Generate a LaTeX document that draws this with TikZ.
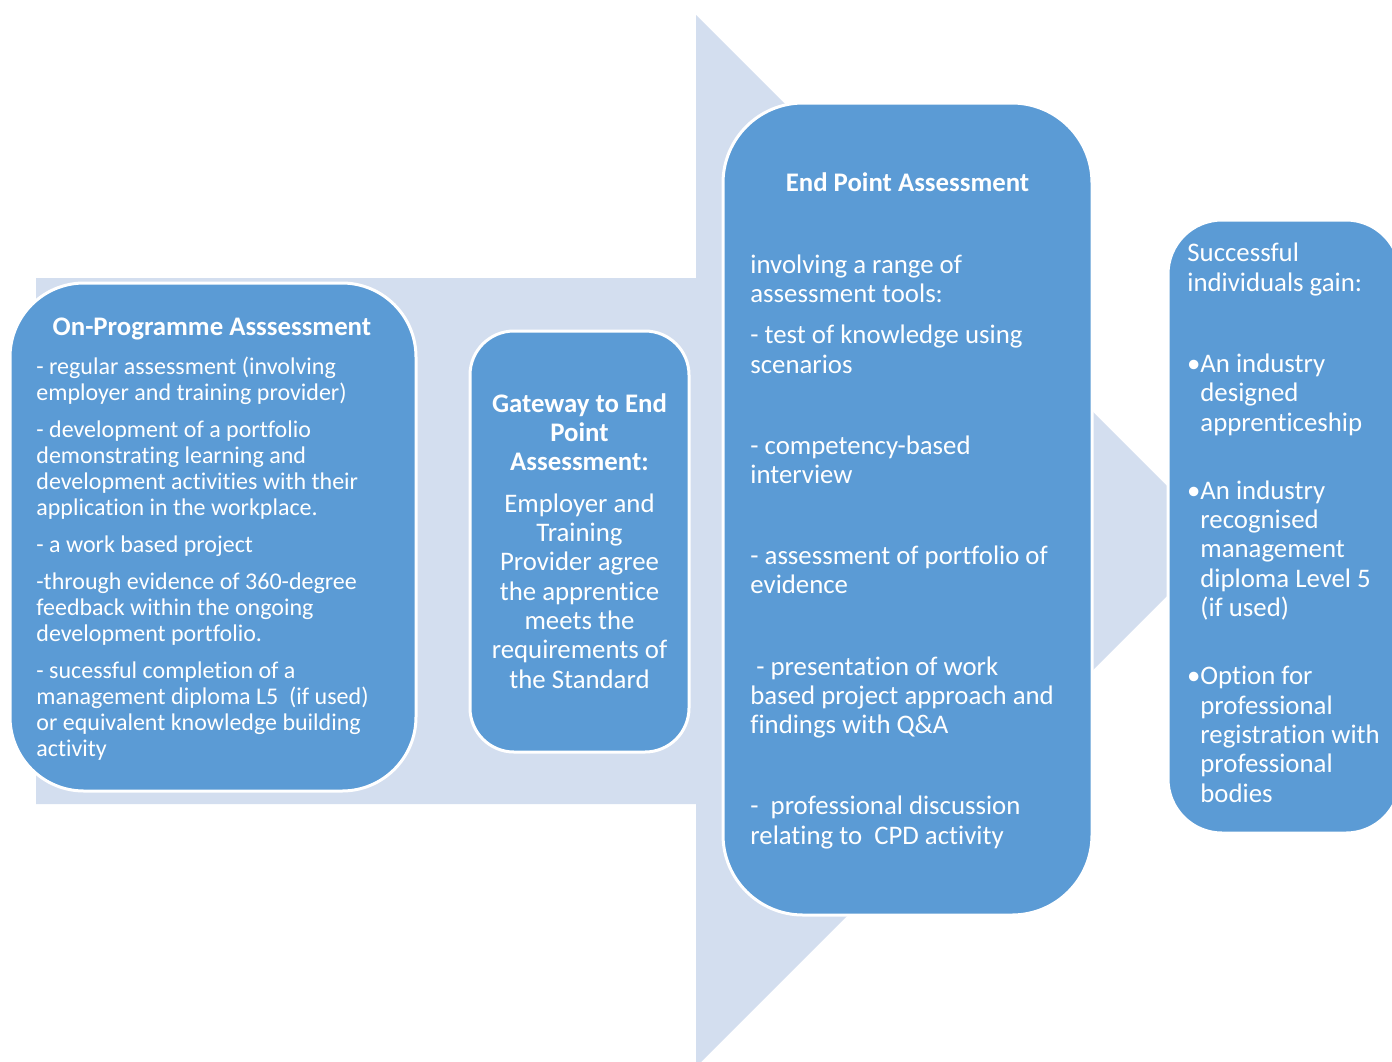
\documentclass[tikz,border=0pt]{standalone}
\usepackage{fontspec}
\setmainfont[Ligatures=NoCommon]{Carlito}
\setlength{\lineskiplimit}{-5pt}
\definecolor{arrowblue}{HTML}{D3DEEF}
\definecolor{boxblue}{HTML}{5B9BD5}
\begin{document}
\begin{tikzpicture}[x=0.5pt,y=-0.5pt,
	stage/.style={draw=white,line width=1.5pt,fill=boxblue,inner sep=0pt},
	stagetext/.style={text=white,inner sep=0pt,font=\fontsize{13.4}{14.65}\selectfont}]
	\useasboundingbox (0,0) rectangle (1392,1061);
	% big arrow behind the stages
	\fill[arrowblue] (36,278) -- (696,278) -- (696,15) -- (1222,541) -- (696,1067) -- (696,804) -- (36,804) -- cycle;
	% stages
	\node[stage,minimum width=203pt,minimum height=254pt,rounded corners=37pt] (onprog) at (213,537) {};
	\node[stage,minimum width=109.5pt,minimum height=210.5pt,rounded corners=22pt] (gateway) at (579.5,541.5) {};
	\node[stage,minimum width=184.5pt,minimum height=406pt,rounded corners=40pt] (epa) at (907.5,509) {};
	\node[stage,minimum width=116pt,minimum height=306.5pt,rounded corners=27pt] (gain) at (1284,526.5) {};
	% on-programme text
	\node[stagetext,font=\bfseries\fontsize{13.4}{14.65}\selectfont,anchor=base] (onprogtitle) at (212,335) {On-Programme Asssessment};
	\node[stagetext,font=\fontsize{12}{13}\selectfont,anchor=base west,align=left] (onprogbody) at (36,756)
		{- regular assessment (involving\\employer and training provider)\\[5.5pt]
		 - development of a portfolio\\demonstrating learning and\\development activities with their\\application in the workplace.\\[5.5pt]
		 - a work based project\\[5.5pt]
		 -through evidence of 360-degree\\feedback within the ongoing\\development portfolio.\\[5.5pt]
		 - sucessful completion of a\\management diploma L5~~(if used)\\or equivalent knowledge building\\activity};
	% gateway text
	\node[stagetext,anchor=base,align=center] (gatewaytext) at (579.5,688)
		{\textbf{Gateway to End}\\\textbf{Point}\\\textbf{Assessment:}\\[6pt]
		 Employer and\\Training\\Provider agree\\the apprentice\\meets the\\requirements of\\the Standard};
	% end point assessment text
	\node[stagetext,font=\bfseries\fontsize{13.4}{14.65}\selectfont,anchor=base] (epatitle) at (907.5,191) {End Point Assessment};
	\node[stagetext,anchor=base west,align=left] (epabody) at (750,844)
		{involving a range of\\assessment tools:\\[6pt]
		 - test of knowledge using\\scenarios\\[25.9pt]
		 - competency-based\\interview\\[25.9pt]
		 - assessment of portfolio of\\evidence\\[25.9pt]
		 \hspace*{3pt}- presentation of work\\based project approach and\\findings with Q\&A\\[25.9pt]
		 -~~professional discussion\\relating to~~CPD activity};
	% what is gained
	\node[stagetext,anchor=base west,align=left] (gainhead) at (1187,291)
		{Successful\\individuals gain:};
	\node[stagetext,anchor=base west,align=left] (gainlist) at (1200,802)
		{\llap{•}An industry\\designed\\apprenticeship\\[19.5pt]
		 \llap{•}An industry\\recognised\\management\\diploma Level 5\\(if used)\\[19.5pt]
		 \llap{•}Option for\\professional\\registration with\\professional\\bodies};
\end{tikzpicture}
\end{document}
